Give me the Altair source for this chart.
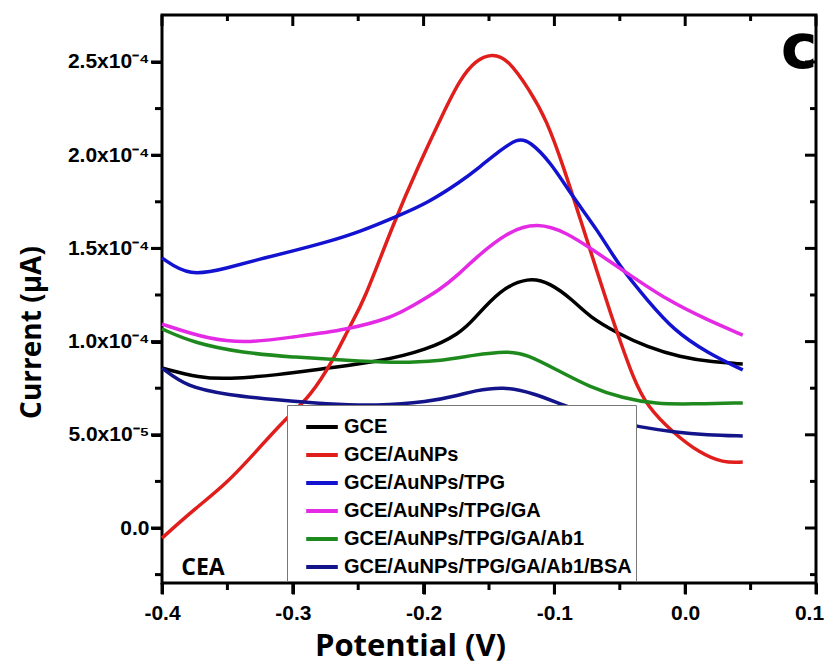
import altair as alt
import pandas as pd

# ---------------- data ----------------
series_names = ["GCE", "GCE/AuNPs", "GCE/AuNPs/TPG", "GCE/AuNPs/TPG/GA",
                "GCE/AuNPs/TPG/GA/Ab1", "GCE/AuNPs/TPG/GA/Ab1/BSA"]
series_colors = ["#000000", "#e01e1c", "#1212d0", "#e42ae4", "#1e8a1e", "#14148a"]

gce_x = [-0.400, -0.371, -0.350, -0.312, -0.274, -0.236, -0.197, -0.172, -0.162,
         -0.142, -0.120, -0.103, -0.086, -0.073, -0.052, -0.029, -0.004, 0.021, 0.044]
gce_y = [8.58e-5, 8.05e-5, 7.99e-5, 8.20e-5, 8.58e-5, 8.90e-5, 9.55e-5, 10.46e-5, 11.16e-5,
         12.77e-5, 13.47e-5, 13.14e-5, 12.23e-5, 11.32e-5, 10.46e-5, 9.71e-5, 9.17e-5, 8.90e-5, 8.80e-5]

aunp_x = [-0.400, -0.376, -0.350, -0.325, -0.304, -0.287, -0.269, -0.256, -0.246, -0.223,
          -0.203, -0.185, -0.172, -0.160, -0.148, -0.136, -0.119, -0.106, -0.093, -0.080,
          -0.067, -0.057, -0.050, -0.040, -0.029, -0.009, 0.011, 0.029, 0.044]
aunp_y = [-0.54e-5, 0.97e-5, 2.41e-5, 4.35e-5, 5.96e-5, 7.03e-5, 9.01e-5, 10.9e-5, 12.1e-5, 16.36e-5,
          19.58e-5, 22.26e-5, 24.1e-5, 25.1e-5, 25.45e-5, 25.2e-5, 23.5e-5, 21.9e-5, 19.37e-5, 16.52e-5,
          13.68e-5, 11.5e-5, 10.09e-5, 8.1e-5, 6.49e-5, 5.1e-5, 4.02e-5, 3.49e-5, 3.54e-5]

tpg_x = [-0.400, -0.379, -0.350, -0.325, -0.300, -0.274, -0.249, -0.218, -0.197, -0.172,
         -0.157, -0.142, -0.128, -0.119, -0.103, -0.086, -0.067, -0.050, -0.029, -0.009,
         0.017, 0.044]
tpg_y = [1.449e-4, 1.347e-4, 1.395e-4, 1.443e-4, 1.486e-4, 1.534e-4, 1.588e-4, 1.679e-4, 1.744e-4, 1.856e-4,
         1.937e-4, 2.023e-4, 2.092e-4, 2.076e-4, 1.964e-4, 1.776e-4, 1.599e-4, 1.400e-4, 1.223e-4, 1.062e-4,
         0.939e-4, 0.848e-4]

ga_x = [-0.400, -0.363, -0.333, -0.300, -0.259, -0.223, -0.210, -0.1875, -0.172, -0.162,
        -0.136, -0.113, -0.090, -0.0705, -0.0445, -0.014, 0.017, 0.044]
ga_y = [1.094e-4, 1.009e-4, 0.993e-4, 1.025e-4, 1.062e-4, 1.132e-4, 1.186e-4, 1.277e-4, 1.368e-4, 1.438e-4,
        1.590e-4, 1.640e-4, 1.583e-4, 1.491e-4, 1.368e-4, 1.223e-4, 1.116e-4, 1.035e-4]

ab1_x = [-0.400, -0.376, -0.338, -0.300, -0.262, -0.223, -0.1875, -0.162, -0.136, -0.121,
         -0.098, -0.073, -0.048, -0.022, 0.004, 0.044]
ab1_y = [10.68e-5, 9.93e-5, 9.39e-5, 9.17e-5, 9.01e-5, 8.85e-5, 8.95e-5, 9.28e-5, 9.50e-5, 9.32e-5,
         8.48e-5, 7.56e-5, 6.97e-5, 6.65e-5, 6.65e-5, 6.71e-5]

bsa_x = [-0.400, -0.381, -0.350, -0.312, -0.274, -0.236, -0.197, -0.172, -0.162, -0.139,
         -0.116, -0.090, -0.060, -0.035, -0.009, 0.017, 0.044]
bsa_y = [8.58e-5, 7.56e-5, 7.14e-5, 6.87e-5, 6.65e-5, 6.55e-5, 6.76e-5, 7.14e-5, 7.35e-5, 7.60e-5,
         7.24e-5, 6.49e-5, 5.80e-5, 5.42e-5, 5.15e-5, 4.99e-5, 4.94e-5]

x_major = [-0.4, -0.3, -0.2, -0.1, 0.0, 0.1]
x_tick_labels = ["-0.4", "-0.3", "-0.2", "-0.1", "0.0", "0.1"]
x_minor = [-0.35, -0.25, -0.15, -0.05, 0.05]
y_major = [0.0, 5e-5, 1e-4, 1.5e-4, 2e-4, 2.5e-4]
y_tick_labels = ["0.0", "5.0x10⁻⁵", "1.0x10⁻⁴", "1.5x10⁻⁴", "2.0x10⁻⁴", "2.5x10⁻⁴"]
y_minor = [-2.5e-5, 2.5e-5, 7.5e-5, 1.25e-4, 1.75e-4, 2.25e-4]
x_domain = [-0.4, 0.1]
y_domain = [-2.95e-5, 2.752e-4]

# ---------------- tables ----------------
rows = []
for name, xs_, ys_ in zip(series_names,
                          [gce_x, aunp_x, tpg_x, ga_x, ab1_x, bsa_x],
                          [gce_y, aunp_y, tpg_y, ga_y, ab1_y, bsa_y]):
    for i, (xv, yv) in enumerate(zip(xs_, ys_)):
        rows.append({"series": name, "x": xv, "y": yv, "i": i})
df = pd.DataFrame(rows)

W, H = 654, 568
xs = alt.Scale(domain=x_domain, nice=False, zero=False)
ys = alt.Scale(domain=y_domain, nice=False, zero=False)

x_expr = "[" + ",".join("'%s'" % s for s in x_tick_labels) + "][round((datum.value + 0.4) * 10)]"
y_expr = "[" + ",".join("'%s'" % s for s in y_tick_labels) + "][round(datum.value / 5e-5)]"

lines = alt.Chart(df).mark_line(strokeWidth=3.5, interpolate="basis").encode(
    x=alt.X("x:Q", scale=xs, axis=alt.Axis(
        values=x_major, labelExpr=x_expr, grid=False, domain=False, ticks=True,
        tickSize=11, tickWidth=3, tickColor="black", labelPadding=8, labelFlush=False,
        labelOffset={"condition": {"test": "datum.value > 0.05", "value": -7}, "value": 0},
        labelFont="Liberation Sans", labelFontSize=21, labelFontWeight="bold", labelColor="black",
        title="Potential (V)", titleFont="Open Sans", titleFontSize=31, titleFontWeight="bold",
        titleColor="black", titleX=248, titleY=72, titleAlign="center", titleBaseline="alphabetic")),
    y=alt.Y("y:Q", scale=ys, axis=alt.Axis(
        values=y_major, labelExpr=y_expr, grid=False, domain=False, ticks=True,
        tickSize=11, tickWidth=3, tickColor="black", labelPadding=2, labelFlush=False,
        labelFont="Liberation Sans", labelFontSize=21, labelFontWeight="bold", labelColor="black",
        title="Current (μA)", titleFont="Open Sans", titleFontSize=28, titleFontWeight="bold",
        titleColor="black", titleAngle=270, titleX=-130, titleY=317, titleAlign="center",
        titleBaseline="middle")),
    color=alt.Color("series:N", scale=alt.Scale(domain=series_names, range=series_colors),
                    sort=series_names,
                    legend=alt.Legend(title=None, orient="none", legendX=125, legendY=390,
                                      symbolType="stroke", symbolSize=1000, symbolStrokeWidth=4,
                                      labelFont="Liberation Sans", labelFontSize=20,
                                      labelFontWeight="bold", labelColor="black", labelLimit=400,
                                      fillColor="white", strokeColor="#777777", padding=4,
                                      rowPadding=0, symbolOffset=13, labelOffset=4, zindex=1)),
    detail="series:N",
    order="i:Q",
)

xmaj_df = pd.DataFrame({"v": x_major})
xmin_df = pd.DataFrame({"v": x_minor})
ymaj_df = pd.DataFrame({"v": y_major})
ymin_df = pd.DataFrame({"v": y_minor})

rule = dict(color="black", strokeWidth=3)
bottom_major = alt.Chart(xmaj_df).mark_rule(**rule).encode(
    x=alt.X("v:Q", scale=xs, axis=None), y=alt.value(H), y2=alt.value(H + 11))
bottom_minor = alt.Chart(xmin_df).mark_rule(**rule).encode(
    x=alt.X("v:Q", scale=xs, axis=None), y=alt.value(H), y2=alt.value(H + 7))
top_major = alt.Chart(xmaj_df).mark_rule(**rule).encode(
    x=alt.X("v:Q", scale=xs, axis=None), y=alt.value(0), y2=alt.value(11))
top_minor = alt.Chart(xmin_df).mark_rule(**rule).encode(
    x=alt.X("v:Q", scale=xs, axis=None), y=alt.value(0), y2=alt.value(6))
left_major = alt.Chart(ymaj_df).mark_rule(**rule).encode(
    y=alt.Y("v:Q", scale=ys, axis=None), x=alt.value(-11), x2=alt.value(0))
left_minor = alt.Chart(ymin_df).mark_rule(**rule).encode(
    y=alt.Y("v:Q", scale=ys, axis=None), x=alt.value(-7), x2=alt.value(0))
right_major = alt.Chart(ymaj_df).mark_rule(**rule).encode(
    y=alt.Y("v:Q", scale=ys, axis=None), x=alt.value(W - 11), x2=alt.value(W))
right_minor = alt.Chart(ymin_df).mark_rule(**rule).encode(
    y=alt.Y("v:Q", scale=ys, axis=None), x=alt.value(W - 6), x2=alt.value(W))

cea = alt.Chart(pd.DataFrame({"t": ["CEA"]})).mark_text(
    font="Open Sans", fontSize=23, fontWeight="bold", color="black", align="center",
    baseline="alphabetic").encode(text="t:N", x=alt.value(41), y=alt.value(560))
panel = alt.Chart(pd.DataFrame({"t": ["c"]})).mark_text(
    font="DejaVu Sans", fontSize=62, fontWeight="bold", color="black", align="center",
    baseline="alphabetic").encode(text="t:N", x=alt.value(637), y=alt.value(53))

chart = alt.layer(lines, bottom_major, bottom_minor, top_major, top_minor, left_major,
                  left_minor, right_major, right_minor, cea, panel).resolve_axis(
    x="independent", y="independent").properties(
    width=W, height=H,
    padding={"left": 154, "top": 7, "right": 10, "bottom": 80},
    autosize=alt.AutoSizeParams(type="none"),
).configure_view(stroke="black", strokeWidth=3)

chart.save("out.html", embed_options={"renderer": "svg", "actions": False})
